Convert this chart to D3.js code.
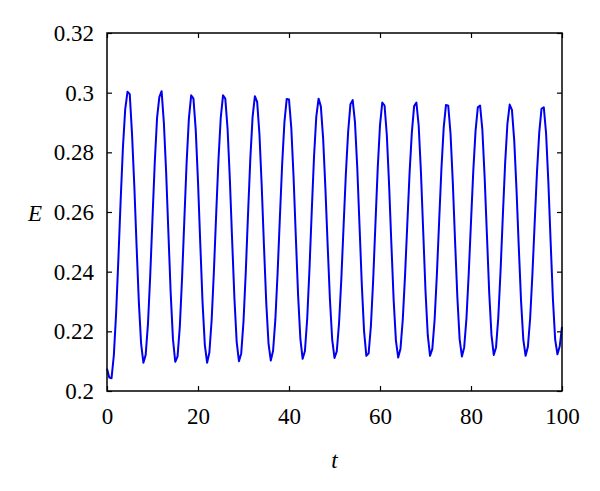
<!DOCTYPE html>
<html>
<head>
<meta charset="utf-8">
<script src="https://cdn.jsdelivr.net/npm/d3@7"></script>
<style>
  html, body { margin: 0; padding: 0; background: #fff; }
  svg { display: block; }
  .tick text { font-family: "Liberation Serif", "DejaVu Serif", serif; font-size: 23px; fill: #000; }
</style>
</head>
<body>
<svg id="chart" width="600" height="491"></svg>
<script>
// ---- data ----
const tStart = 0, tEnd = 100, tStep = 0.5;
const energy = [
  0.2075,0.2045,0.2043,0.2119,0.2259,0.2442,0.2639,0.2816,0.2944,0.3003,
  0.2995,0.2862,0.2689,0.2487,0.2298,0.2158,0.2095,0.2121,0.2224,0.2387,
  0.2580,0.2767,0.2915,0.2985,0.3005,0.2899,0.2733,0.2528,0.2327,0.2173,
  0.2098,0.2115,0.2215,0.2379,0.2575,0.2766,0.2914,0.2991,0.2980,0.2876,
  0.2702,0.2494,0.2297,0.2155,0.2095,0.2129,0.2238,0.2403,0.2594,0.2776,
  0.2916,0.2991,0.2980,0.2879,0.2710,0.2507,0.2312,0.2165,0.2100,0.2126,
  0.2233,0.2399,0.2594,0.2779,0.2919,0.2988,0.2969,0.2862,0.2689,0.2486,
  0.2296,0.2159,0.2102,0.2135,0.2239,0.2397,0.2583,0.2762,0.2902,0.2979,
  0.2977,0.2883,0.2719,0.2517,0.2321,0.2175,0.2108,0.2134,0.2242,0.2409,
  0.2603,0.2785,0.2920,0.2980,0.2954,0.2847,0.2680,0.2487,0.2305,0.2171,
  0.2111,0.2133,0.2227,0.2375,0.2554,0.2729,0.2869,0.2961,0.2975,0.2901,
  0.2750,0.2554,0.2357,0.2200,0.2118,0.2126,0.2218,0.2372,0.2561,0.2747,
  0.2891,0.2967,0.2957,0.2858,0.2691,0.2493,0.2305,0.2169,0.2112,0.2142,
  0.2238,0.2386,0.2559,0.2731,0.2867,0.2955,0.2967,0.2890,0.2733,0.2534,
  0.2335,0.2187,0.2118,0.2141,0.2238,0.2390,0.2570,0.2745,0.2883,0.2959,
  0.2956,0.2863,0.2700,0.2502,0.2315,0.2174,0.2116,0.2146,0.2243,0.2393,
  0.2567,0.2737,0.2872,0.2951,0.2957,0.2875,0.2716,0.2523,0.2330,0.2188,
  0.2121,0.2146,0.2247,0.2404,0.2588,0.2763,0.2895,0.2960,0.2942,0.2840,
  0.2676,0.2483,0.2302,0.2172,0.2118,0.2148,0.2244,0.2392,0.2565,0.2733,
  0.2867,0.2946,0.2951,0.2864,0.2701,0.2501,0.2309,0.2172,0.2123,0.2150,
  0.2215
];
const xTicks = [0, 20, 40, 60, 80, 100];
const xTickLabels = ["0", "20", "40", "60", "80", "100"];
const yTicks = [0.2, 0.22, 0.24, 0.26, 0.28, 0.3, 0.32];
const yTickLabels = ["0.2", "0.22", "0.24", "0.26", "0.28", "0.3", "0.32"];
const xLabel = "t", yLabel = "E";

// ---- layout ----
const W = 600, H = 491;
const m = { left: 107, top: 33, right: 38, bottom: 100 };
const iw = W - m.left - m.right, ih = H - m.top - m.bottom;

const svg = d3.select("#chart");
svg.append("rect").attr("width", W).attr("height", H).attr("fill", "#fff");
const g = svg.append("g").attr("transform", `translate(${m.left},${m.top})`);

const x = d3.scaleLinear().domain([0, 100]).range([0, iw]);
const y = d3.scaleLinear().domain([0.2, 0.32]).range([ih, 0]);

const data = energy.map((e, i) => ({ t: tStart + i * tStep, e }));

// line
g.append("path")
  .datum(data)
  .attr("fill", "none")
  .attr("stroke", "#0000f0")
  .attr("stroke-width", 2)
  .attr("stroke-linejoin", "round")
  .attr("d", d3.line().x(d => x(d.t)).y(d => y(d.e)));

// axes (MATLAB style, inward ticks)
const tk = 5;
const styleAxis = sel => {
  sel.select(".domain").remove();
  sel.selectAll(".tick line").attr("stroke", "#000").attr("stroke-width", 1.2);
};
g.append("g").attr("transform", `translate(0,${ih})`)
  .call(d3.axisBottom(x).tickValues(xTicks).tickFormat((d, i) => xTickLabels[i]).tickSizeInner(-tk).tickSizeOuter(0).tickPadding(17))
  .call(styleAxis);
g.append("g")
  .call(d3.axisTop(x).tickValues(xTicks).tickFormat("").tickSizeInner(-tk).tickSizeOuter(0))
  .call(styleAxis);
g.append("g")
  .call(d3.axisLeft(y).tickValues(yTicks).tickFormat((d, i) => yTickLabels[i]).tickSizeInner(-tk).tickSizeOuter(0).tickPadding(13))
  .call(styleAxis);
g.append("g").attr("transform", `translate(${iw},0)`)
  .call(d3.axisRight(y).tickValues(yTicks).tickFormat("").tickSizeInner(-tk).tickSizeOuter(0))
  .call(styleAxis);
g.selectAll(".tick text").attr("fill", "#000");

// frame
g.append("rect").attr("width", iw).attr("height", ih)
  .attr("fill", "none").attr("stroke", "#000").attr("stroke-width", 1.5);

// axis labels
svg.append("text").attr("x", m.left + iw / 2).attr("y", 468)
  .attr("text-anchor", "middle")
  .style("font-family", "'Liberation Serif','DejaVu Serif',serif")
  .style("font-style", "italic").style("font-size", "23px")
  .text(xLabel);
svg.append("text").attr("x", 35).attr("y", 221)
  .attr("text-anchor", "middle")
  .style("font-family", "'Liberation Serif','DejaVu Serif',serif")
  .style("font-style", "italic").style("font-size", "23px")
  .text(yLabel);
</script>
</body>
</html>
